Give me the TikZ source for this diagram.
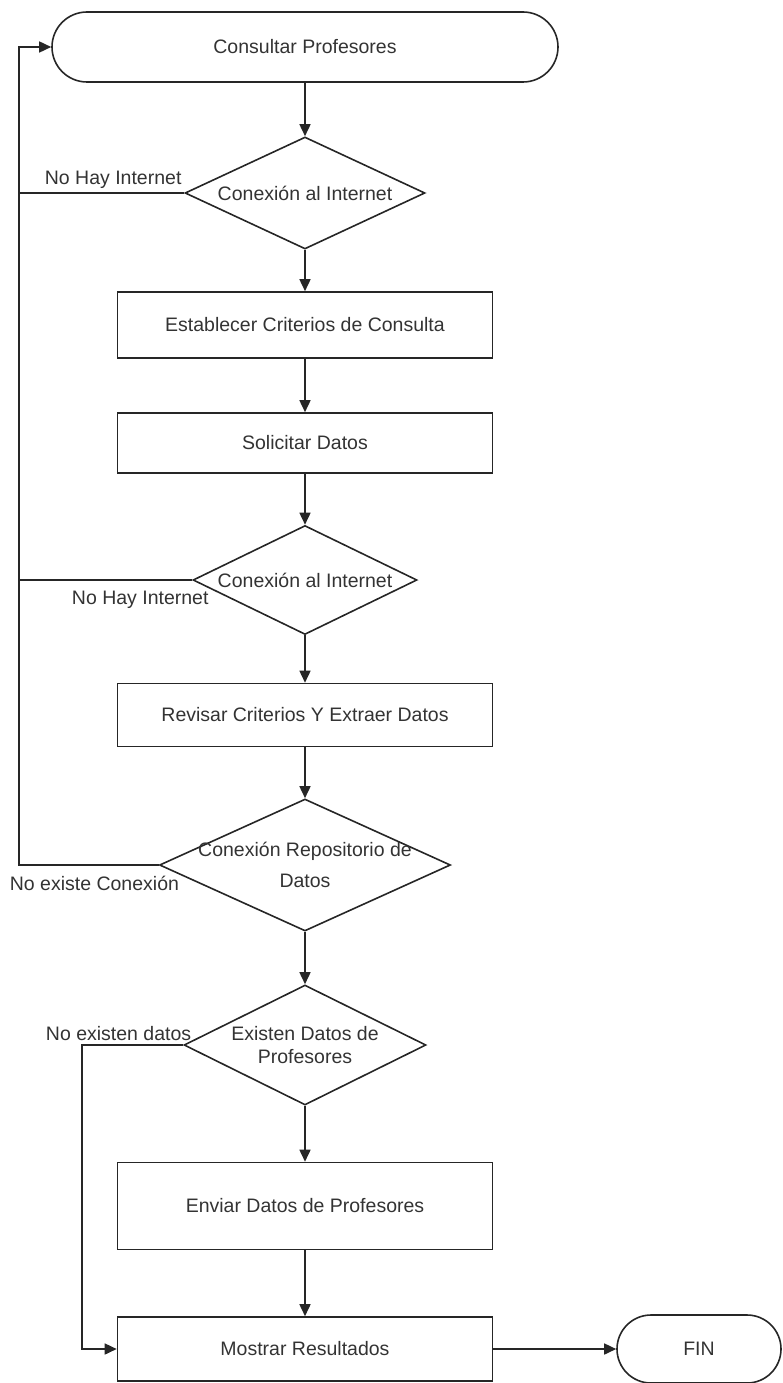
\documentclass[tikz,border=0pt]{standalone}
\usepackage{fontspec}
\setmainfont{Liberation Sans}
\usetikzlibrary{shapes.geometric,arrows.meta}

\begin{document}
\begin{tikzpicture}[x=1pt,y=-1pt,
        every node/.style={font=\fontsize{19.5}{23}\selectfont, text=black!80},
        line/.style={draw=black!85, line width=1.6pt},
        flow/.style={line, -{Triangle[length=12pt,width=11pt]}},
        term/.style={draw=black!85, line width=1.6pt, rectangle, inner sep=0pt},
        proc/.style={draw=black!85, line width=1.6pt, rectangle, minimum width=375pt, inner sep=0pt},
        decision/.style={draw=black!85, line width=1.6pt, diamond, inner sep=0pt}]
        \useasboundingbox (0,0) rectangle (783,1383);
        % main column
        \node[term, minimum width=506pt, minimum height=70pt, rounded corners=35pt] (start) at (305,47) {Consultar Profesores};
        \node[decision, minimum width=240pt, minimum height=112pt, label=center:Conexión al Internet] (net1) at (305,193) {};
        \node[proc, minimum height=66pt] (criterios) at (305,325) {Establecer Criterios de Consulta};
        \node[proc, minimum height=60pt] (solicitar) at (305,443) {Solicitar Datos};
        \node[decision, minimum width=224pt, minimum height=109pt, label=center:Conexión al Internet] (net2) at (305,580) {};
        \node[proc, minimum height=63pt] (revisar) at (305,715) {Revisar Criterios Y Extraer Datos};
        \node[decision, minimum width=291pt, minimum height=132pt, label={[align=center, font=\fontsize{19.5}{31}\selectfont]center:Conexión Repositorio de\\Datos}] (repo) at (305,865) {};
        \node[decision, minimum width=242pt, minimum height=120pt, label={[align=center]center:Existen Datos de\\Profesores}] (existen) at (305,1045) {};
        \node[proc, minimum height=87pt] (enviar) at (305,1206) {Enviar Datos de Profesores};
        \node[proc, minimum height=64pt] (mostrar) at (305,1349) {Mostrar Resultados};
        \node[term, minimum width=164pt, minimum height=68pt, rounded corners=34pt] (fin) at (699,1349) {FIN};

        \draw[flow] (start) -- (net1);
        \draw[flow] (net1) -- (criterios);
        \draw[flow] (criterios) -- (solicitar);
        \draw[flow] (solicitar) -- (net2);
        \draw[flow] (net2) -- (revisar);
        \draw[flow] (revisar) -- (repo);
        \draw[flow] (repo) -- (existen);
        \draw[flow] (existen) -- (enviar);
        \draw[flow] (enviar) -- (mostrar);
        \draw[flow] (mostrar) -- (fin);

        % back to start
        \coordinate (looptop) at (19,47);
        \coordinate (loopbot) at (19,865);
        \draw[flow] (repo.west) -- node[below=7pt, pos=0.46] {No existe Conexión} (loopbot) -- (looptop) -- (start.west);
        \draw[line] (net1.west) -- node[above, pos=0.43] {No Hay Internet} (net1.west -| looptop);
        \draw[line] (net2.west) -- node[below=7pt, pos=0.30] {No Hay Internet} (net2.west -| looptop);
        \draw[flow] (existen.west) -- node[above, pos=0.64] {No existen datos} ++(-101,0) |- (mostrar.west);
    \end{tikzpicture}
\end{document}
